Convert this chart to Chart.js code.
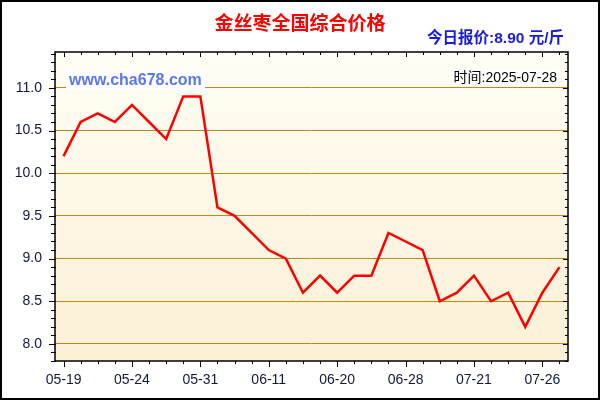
<!DOCTYPE html>
<html><head><meta charset="utf-8">
<script src="https://cdn.jsdelivr.net/npm/chart.js@4.4.0/dist/chart.umd.min.js"></script>
<style>html,body{margin:0;padding:0;background:#fff;}canvas{display:block;}</style>
</head><body>
<canvas id="c" width="600" height="400"></canvas>
<script>
const titleText = '金丝枣全国综合价格';
const priceText = '今日报价:8.90 元/斤';
const siteText = 'www.cha678.com';
const timeText = '时间:2025-07-28';
const dates = ['05-19','05-20','05-21','05-22','05-24','05-26','05-27','05-29','05-31','06-03',
  '06-05','06-07','06-11','06-13','06-15','06-17','06-20','06-22','06-24','06-26',
  '06-28','07-03','07-10','07-16','07-21','07-22','07-23','07-24','07-26','07-28'];
const prices = [10.2,10.6,10.7,10.6,10.8,10.6,10.4,10.9,10.9,9.6,
  9.5,9.3,9.1,9.0,8.6,8.8,8.6,8.8,8.8,9.3,
  9.2,9.1,8.5,8.6,8.8,8.5,8.6,8.2,8.6,8.9];
const yTickValues = [8.0,8.5,9.0,9.5,10.0,10.5,11.0];
const yMin = 7.8, yMax = 11.42, yMinorStep = 0.1, xMajorEvery = 4;

const frame = {
  id: 'frame',
  beforeDraw(chart) {
    const {ctx, chartArea: a} = chart;
    ctx.save();
    ctx.fillStyle = '#ffffff';
    ctx.fillRect(0, 0, chart.width, chart.height);
    const g = ctx.createLinearGradient(0, a.top, 0, a.bottom);
    g.addColorStop(0, '#fffef5');
    g.addColorStop(1, '#fcf0d6');
    ctx.fillStyle = g;
    ctx.fillRect(a.left, a.top, a.right - a.left, a.bottom - a.top);
    ctx.restore();
  },
  afterDraw(chart) {
    const {ctx, chartArea: a} = chart;
    const xs = chart.scales.x, ys = chart.scales.y;
    ctx.save();
    ctx.strokeStyle = '#000';
    ctx.lineWidth = 1;
    ctx.beginPath();
    for (let v = yMin; v <= yMax + 1e-9; v += yMinorStep) {
      const py = Math.round(ys.getPixelForValue(v)) + 0.5;
      const major = yTickValues.some(t => Math.abs(t - v) < 1e-6);
      ctx.moveTo(a.left - (major ? 6 : 4), py); ctx.lineTo(a.left + 1, py);
      ctx.moveTo(a.right - (major ? 5 : 3), py); ctx.lineTo(a.right, py);
    }
    for (let i = 0; i < dates.length; i++) {
      const px = Math.round(xs.getPixelForValue(i)) + 0.5;
      const major = i % xMajorEvery === 0;
      ctx.moveTo(px, a.bottom); ctx.lineTo(px, a.bottom + (major ? 6 : 3));
      ctx.moveTo(px, a.top); ctx.lineTo(px, a.top + (major ? 5 : 3));
    }
    ctx.stroke();
    ctx.lineWidth = 1.5;
    ctx.strokeRect(a.left, a.top, a.right - a.left, a.bottom - a.top);
    ctx.lineWidth = 2;
    ctx.strokeRect(1, 1, chart.width - 2, chart.height - 2);
    ctx.textBaseline = 'middle';
    ctx.textAlign = 'center';
    ctx.fillStyle = '#ff0000';
    ctx.font = 'bold 19px "Noto Sans CJK SC"';
    ctx.fillText(titleText, 300, 23);
    ctx.textAlign = 'right';
    ctx.fillStyle = '#1a1ae6';
    ctx.font = 'bold 15.5px "Liberation Sans","Noto Sans CJK SC"';
    ctx.fillText(priceText, 564, 39);
    ctx.fillStyle = '#ffffff';
    ctx.fillRect(66, 71, 139, 19);
    ctx.textAlign = 'left';
    ctx.fillStyle = '#5a78ee';
    ctx.font = 'bold 16px "Liberation Sans"';
    ctx.fillText(siteText, 69, 81);
    ctx.fillStyle = '#ffffff';
    ctx.fillRect(451, 70, 108, 16);
    ctx.textAlign = 'right';
    ctx.fillStyle = '#000000';
    ctx.font = '14px "Liberation Sans","Noto Sans CJK SC"';
    ctx.fillText(timeText, 557, 78);
    ctx.restore();
  }
};

new Chart(document.getElementById('c'), {
  type: 'line',
  data: {
    labels: dates,
    datasets: [{
      data: prices,
      borderColor: '#ff0000',
      borderWidth: 2.5,
      pointRadius: 0,
      tension: 0,
      fill: false
    }]
  },
  options: {
    responsive: false,
    animation: false,
    devicePixelRatio: 1,
    layout: {padding: {top: 52, right: 32, left: 0, bottom: 0}},
    plugins: {legend: {display: false}, tooltip: {enabled: false}, title: {display: false}},
    scales: {
      x: {
        type: 'category',
        offset: true,
        grid: {display: false, drawTicks: false, offset: false},
        border: {display: false},
        ticks: {
          autoSkip: false, maxRotation: 0, minRotation: 0, padding: 11,
          color: '#101a3a',
          font: {family: '"Liberation Sans", Arial', size: 14},
          callback: (v, i) => (i % xMajorEvery === 0 ? dates[i] : '')
        },
        afterFit: s => { s.height = 39; }
      },
      y: {
        min: yMin, max: yMax,
        grid: {color: '#bb8c10', lineWidth: 1, drawTicks: false},
        border: {display: false},
        ticks: {
          padding: 13, color: '#101a3a',
          font: {family: '"Liberation Sans", Arial', size: 14},
          callback: v => Number(v).toFixed(1)
        },
        afterBuildTicks: s => { s.ticks = yTickValues.map(v => ({value: v})); },
        afterFit: s => { s.width = 55; }
      }
    }
  },
  plugins: [frame]
});
</script>
</body></html>
